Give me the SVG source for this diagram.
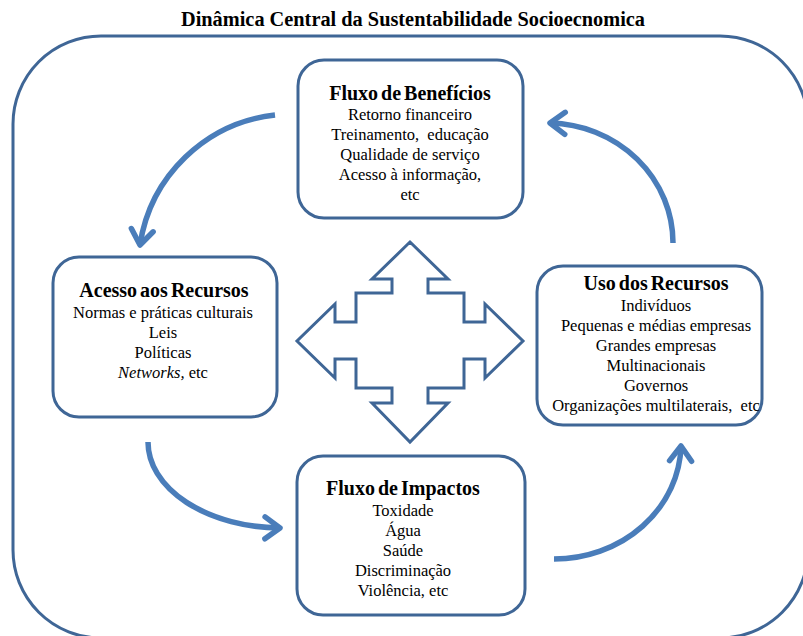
<svg xmlns="http://www.w3.org/2000/svg" width="803" height="636" viewBox="0 0 803 636">
  <style>
    .frame { fill: none; stroke: #3f6696; stroke-width: 3; }
    .box { fill: #ffffff; stroke: #3f6696; stroke-width: 3; }
    .conn { fill: none; stroke: #4a7dba; stroke-width: 5.5; marker-end: url(#chev); }
    .hd { font-family: "Liberation Serif", serif; font-weight: bold; font-size: 20px; fill: #000; text-anchor: middle; word-spacing: -2px; }
    .tx { font-family: "Liberation Serif", serif; font-size: 16.5px; fill: #000; text-anchor: middle; }
    .ttl { font-family: "Liberation Serif", serif; font-weight: bold; font-size: 20px; fill: #000; text-anchor: middle; }
  </style>
  <defs>
    <marker id="chev" markerUnits="userSpaceOnUse" markerWidth="40" markerHeight="40" viewBox="-20 -20 40 40" refX="0" refY="0" orient="auto">
      <path d="M-15,-11 L0,0 L-15,11" fill="none" stroke="#4a7dba" stroke-width="5.5" stroke-linecap="round" stroke-linejoin="round"/>
    </marker>
  </defs>
  <rect width="803" height="636" fill="#ffffff"/>

  <g id="title">
    <text class="ttl" x="413" y="26" textLength="464" lengthAdjust="spacingAndGlyphs">Dinâmica Central da Sustentabilidade Socioecnomica</text>
  </g>

  <g id="frame">
    <rect class="frame" x="13" y="36" width="795" height="602" rx="88" ry="88"/>
  </g>

  <g id="central-arrow">
    <path d="M410,242 L448,279 L428,279 L428,293 L464,293 L464,322 L485,322 L485,304 L523,341 L485,378 L485,359 L464,359 L464,388 L428,388 L428,403 L448,403 L410,442 L372,403 L392,403 L392,388 L356,388 L356,359 L335,359 L335,378 L297,341 L335,304 L335,322 L356,322 L356,293 L392,293 L392,279 L372,279 Z" fill="#ffffff" stroke="#3f6696" stroke-width="3" stroke-linejoin="miter"/>
  </g>

  <g id="connectors">
    <path class="conn" d="M275,115 A154,154 0 0 0 140,245"/>
    <path class="conn" d="M148,442 A134,86 0 0 0 280,528"/>
    <path class="conn" d="M554,559 A127,116 0 0 0 681,446"/>
    <path class="conn" d="M673,243 A126,120 0 0 0 550,123"/>
  </g>

  <g id="node-beneficios">
    <rect class="box" x="298" y="60" width="225" height="158" rx="26" ry="26"/>
    <text class="hd" x="410" y="100">Fluxo de Benefícios</text>
    <text class="tx" x="410" y="120">Retorno financeiro</text>
    <text class="tx" x="410" y="140" xml:space="preserve">Treinamento,  educação</text>
    <text class="tx" x="410" y="160">Qualidade de serviço</text>
    <text class="tx" x="410" y="180">Acesso à informação,</text>
    <text class="tx" x="410" y="200">etc</text>
  </g>

  <g id="node-acesso">
    <rect class="box" x="53" y="257" width="224" height="160" rx="26" ry="26"/>
    <text class="hd" x="164" y="297">Acesso aos Recursos</text>
    <text class="tx" x="163" y="318">Normas e práticas culturais</text>
    <text class="tx" x="163" y="338">Leis</text>
    <text class="tx" x="163" y="358">Políticas</text>
    <text class="tx" x="163" y="378"><tspan font-style="italic">Networks,</tspan> etc</text>
  </g>

  <g id="node-uso">
    <rect class="box" x="537" y="266" width="225" height="159" rx="26" ry="26"/>
    <text class="hd" x="656" y="290">Uso dos Recursos</text>
    <text class="tx" x="656" y="311">Indivíduos</text>
    <text class="tx" x="656" y="331">Pequenas e médias empresas</text>
    <text class="tx" x="656" y="351">Grandes empresas</text>
    <text class="tx" x="656" y="371">Multinacionais</text>
    <text class="tx" x="656" y="391">Governos</text>
    <text class="tx" x="656" y="411" xml:space="preserve">Organizações multilaterais,  etc</text>
  </g>

  <g id="node-impactos">
    <rect class="box" x="297" y="456" width="228" height="159" rx="26" ry="26"/>
    <text class="hd" x="403" y="495">Fluxo de Impactos</text>
    <text class="tx" x="403" y="516">Toxidade</text>
    <text class="tx" x="403" y="536">Água</text>
    <text class="tx" x="403" y="556">Saúde</text>
    <text class="tx" x="403" y="576">Discriminação</text>
    <text class="tx" x="403" y="596">Violência, etc</text>
  </g>
</svg>
